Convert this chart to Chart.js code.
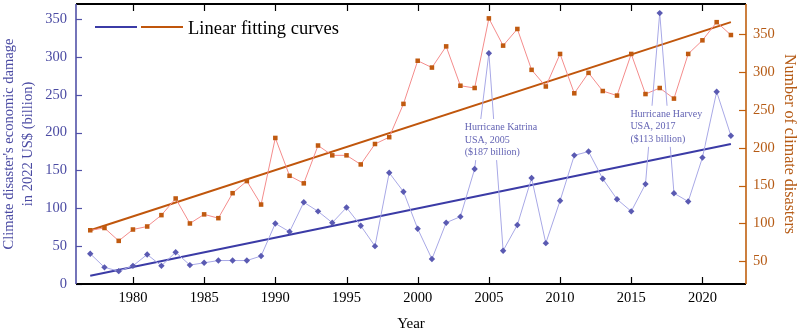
<!DOCTYPE html>
<html><head><meta charset="utf-8">
<script src="https://cdn.jsdelivr.net/npm/chart.js@4.4.0/dist/chart.umd.min.js"></script>
<style>html,body{margin:0;padding:0;background:#fff;}</style>
</head><body>
<canvas id="c" width="800" height="334"></canvas>
<script>
const years = [1977,1978,1979,1980,1981,1982,1983,1984,1985,1986,1987,1988,1989,1990,1991,1992,1993,1994,1995,1996,1997,1998,1999,2000,2001,2002,2003,2004,2005,2006,2007,2008,2009,2010,2011,2012,2013,2014,2015,2016,2017,2018,2019,2020,2021,2022];
const damage = [40,22,17,24,39,24,42,25,28,31,31,31,37,80,69,108,96,81,101,77,50,147,122,73,33,81,89,152,305,44,78,140,54,110,170,175,139,112,96,132,358,120,109,167,254,196];
const disasters = [91,94,77,92,96,111,133,100,112,107,140,156,125,213,163,153,203,190,190,178,205,214,258,315,306,334,282,279,371,335,357,303,281,324,272,299,275,269,324,271,279,265,324,342,366,349];
const fitYears = [1977, 2022];
const fitDamage = [11, 185];
const fitDisasters = [91, 366];
const xTicks = [1980,1985,1990,1995,2000,2005,2010,2015,2020];
const leftTicks = [0,50,100,150,200,250,300,350];
const rightTicks = [50,100,150,200,250,300,350];
const annotations = [
  {x: 2003.3, y: 207, lines: ['Hurricane Katrina','USA, 2005','($187 billion)']},
  {x: 2014.94, y: 224.5, lines: ['Hurricane Harvey','USA, 2017','($113 billion)']}
];

const FONT = 'Liberation Serif';
const BLUE_TXT = '#4b4ba3';
const ORANGE_TXT = '#b55a14';
const BLUE_FIT = '#3b3ba6';
const ORANGE_FIT = '#c0560c';

const toXY = (xs, ys) => xs.map((v, i) => ({x: v, y: ys[i]}));

const decor = {
  id: 'decor',
  afterDatasetsDraw(chart) {
    const {ctx, scales: {x, y}} = chart;
    ctx.save();
    ctx.font = '10px "' + FONT + '"';
    ctx.textBaseline = 'middle';
    ctx.textAlign = 'left';
    const lh = 12.7;
    annotations.forEach(a => {
      const px = x.getPixelForValue(a.x), py = y.getPixelForValue(a.y);
      const w = Math.max(...a.lines.map(l => ctx.measureText(l).width));
      ctx.fillStyle = '#fff';
      ctx.fillRect(px - 2, py - lh / 2 - 2, w + 4, a.lines.length * lh + 3);
      ctx.fillStyle = '#6464b4';
      a.lines.forEach((l, i) => ctx.fillText(l, px, py + i * lh));
    });
    ctx.restore();
  },
  afterDraw(chart) {
    const {ctx, chartArea: {left, right, top, bottom}, scales: {x, y, y1}} = chart;
    ctx.save();
    const seg = (x1, y1_, x2, y2) => { ctx.beginPath(); ctx.moveTo(x1, y1_); ctx.lineTo(x2, y2); ctx.stroke(); };
    ctx.lineWidth = 1.2;
    ctx.strokeStyle = '#000';
    x.ticks.forEach(t => {
      const p = Math.round(x.getPixelForValue(t.value)) + 0.5;
      seg(p, bottom, p, bottom - 7);
      seg(p, top, p, top + 7);
    });
    ctx.strokeStyle = '#5252a8';
    y.ticks.forEach(t => {
      const p = Math.round(y.getPixelForValue(t.value)) + 0.5;
      seg(left, p, left + 6, p);
    });
    ctx.strokeStyle = '#c0600e';
    y1.ticks.forEach(t => {
      const p = Math.round(y1.getPixelForValue(t.value)) + 0.5;
      seg(right, p, right - 7, p);
    });
    ctx.lineWidth = 2;
    ctx.strokeStyle = '#000';
    seg(left, top, right, top);
    seg(left, bottom, right, bottom);
    ctx.lineWidth = 1.6;
    ctx.strokeStyle = '#5252a8';
    seg(left, top, left, bottom);
    ctx.strokeStyle = '#c0600e';
    seg(right, top, right, bottom);
    // legend
    ctx.lineWidth = 2;
    ctx.strokeStyle = BLUE_FIT;
    seg(95, 27, 137, 27);
    ctx.strokeStyle = ORANGE_FIT;
    seg(141, 27, 183, 27);
    ctx.fillStyle = '#000';
    ctx.font = '18.5px "' + FONT + '"';
    ctx.textBaseline = 'alphabetic';
    ctx.textAlign = 'left';
    ctx.fillText('Linear fitting curves', 188, 34);
    ctx.restore();
  }
};

const fitV = w => s => { s.width = w; s.paddingTop = 0; s.paddingBottom = 0; s.paddingLeft = 0; s.paddingRight = 0; };

new Chart(document.getElementById('c'), {
  type: 'line',
  data: {
    datasets: [
      {label: 'Economic damage', data: toXY(years, damage), yAxisID: 'y', order: 1,
       borderColor: '#a8a8e6', borderWidth: 1, pointStyle: 'rectRot', pointRadius: 3.2,
       pointBackgroundColor: '#5a5ab2', pointBorderColor: '#5a5ab2', pointBorderWidth: 0},
      {label: 'Number of disasters', data: toXY(years, disasters), yAxisID: 'y1', order: 1,
       borderColor: '#f48c8c', borderWidth: 1, pointStyle: 'rect', pointRadius: 3.2,
       pointBackgroundColor: '#c05a10', pointBorderColor: '#c05a10', pointBorderWidth: 0},
      {label: 'Fit damage', data: toXY(fitYears, fitDamage), yAxisID: 'y', order: 2,
       borderColor: BLUE_FIT, borderWidth: 2, pointRadius: 0},
      {label: 'Fit disasters', data: toXY(fitYears, fitDisasters), yAxisID: 'y1', order: 2,
       borderColor: ORANGE_FIT, borderWidth: 2, pointRadius: 0}
    ]
  },
  options: {
    responsive: false,
    animation: false,
    devicePixelRatio: 1,
    layout: {padding: {top: 3, left: 0, right: 0, bottom: 0}},
    plugins: {legend: {display: false}, tooltip: {enabled: false}},
    elements: {line: {tension: 0}},
    scales: {
      x: {
        type: 'linear', position: 'bottom', min: 1976, max: 2023.06,
        afterBuildTicks: s => { s.ticks = xTicks.map(v => ({value: v})); },
        afterFit: s => { s.height = 50; s.paddingLeft = 0; s.paddingRight = 0; s.paddingTop = 0; s.paddingBottom = 0; },
        grid: {display: false, drawTicks: false}, border: {display: false},
        ticks: {font: {family: FONT, size: 14.5}, color: '#000', padding: 5, maxRotation: 0, autoSkip: false, callback: v => String(v)},
        title: {display: true, text: 'Year', font: {family: FONT, size: 15}, color: '#000', padding: {top: 0, bottom: 1}}
      },
      y: {
        type: 'linear', position: 'left', min: 0, max: 370,
        afterBuildTicks: s => { s.ticks = leftTicks.map(v => ({value: v})); },
        afterFit: fitV(76),
        grid: {display: false, drawTicks: false}, border: {display: false},
        ticks: {font: {family: FONT, size: 14.5}, color: BLUE_TXT, padding: 9, callback: v => String(v)},
        title: {display: true, text: ["Climate disaster's economic damage", 'in 2022 US$ (billion)'], font: {family: FONT, size: 14.5, lineHeight: 1.3}, color: BLUE_TXT, padding: {top: 0, bottom: 0}}
      },
      y1: {
        type: 'linear', position: 'right', min: 20, max: 390,
        afterBuildTicks: s => { s.ticks = rightTicks.map(v => ({value: v})); },
        afterFit: fitV(54),
        grid: {display: false, drawTicks: false}, border: {display: false},
        ticks: {font: {family: FONT, size: 14.5}, color: ORANGE_TXT, padding: 7, callback: v => String(v)},
        title: {display: true, text: 'Number of climate disasters', font: {family: FONT, size: 16}, color: ORANGE_TXT, padding: {top: 1, bottom: 0}}
      }
    }
  },
  plugins: [decor]
});
</script>
</body></html>
